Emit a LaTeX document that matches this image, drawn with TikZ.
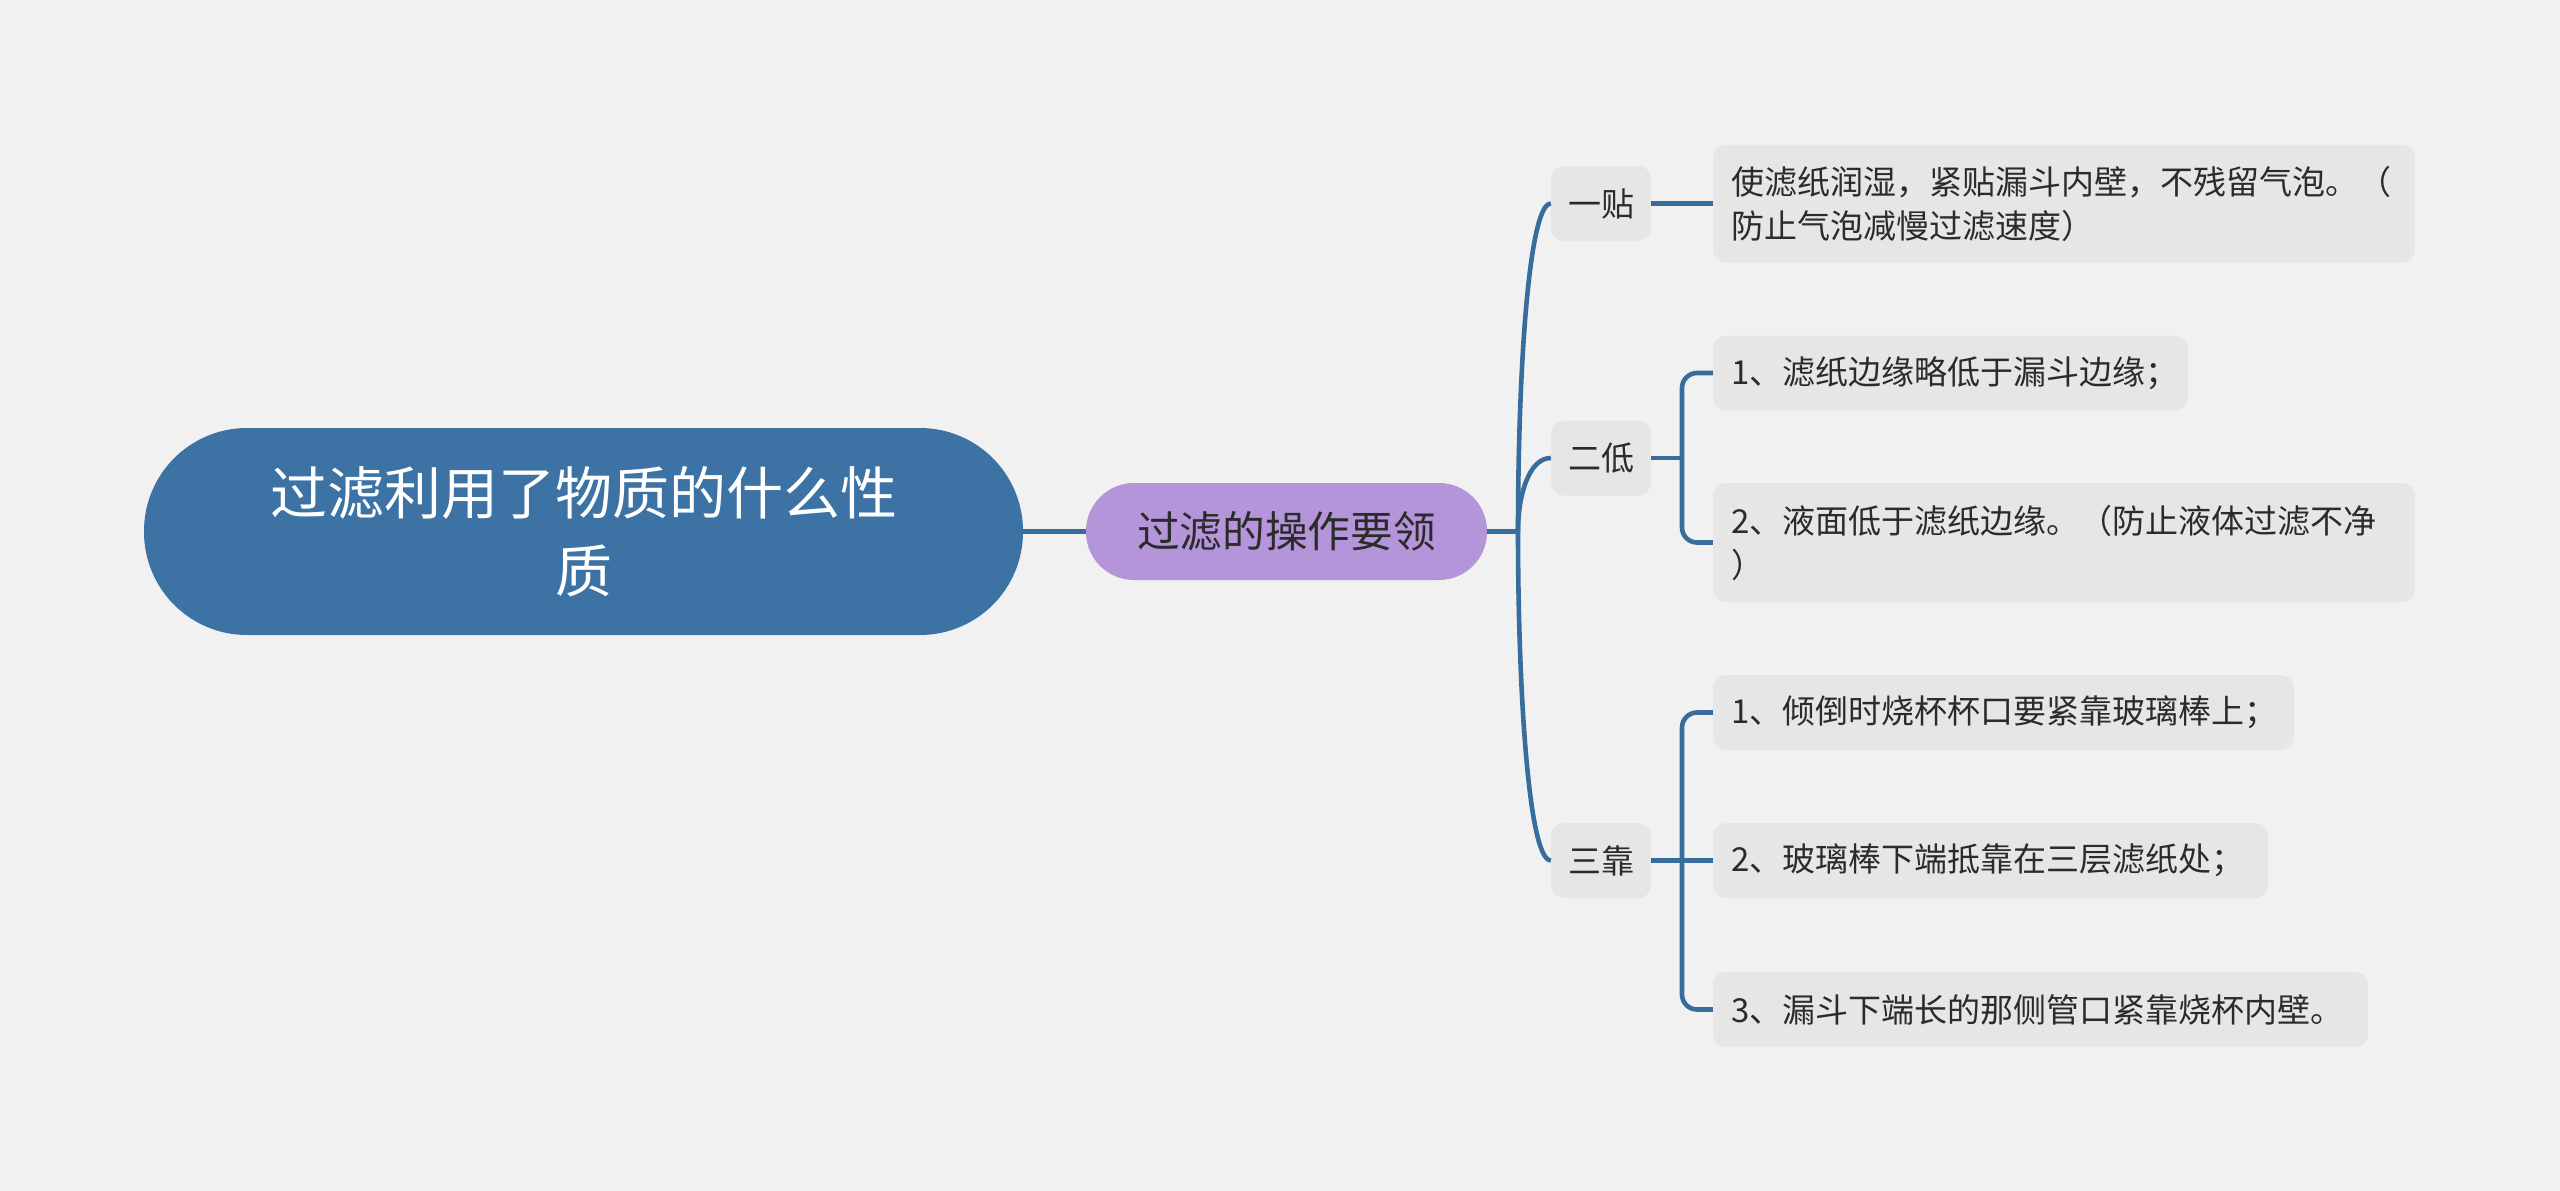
\documentclass[tikz,border=0pt]{standalone}
\usepackage{fontspec}
\setmainfont{Noto Sans CJK SC}
\usetikzlibrary{calc}
\definecolor{bg}{HTML}{F1F1F1}
\definecolor{rootblue}{HTML}{3C72A4}
\definecolor{mainpurple}{HTML}{B595D9}
\definecolor{boxgray}{HTML}{E6E6E6}
\definecolor{linkblue}{HTML}{386C9D}
\definecolor{txt}{HTML}{2B2B2B}
\tikzset{
  rootnode/.style={fill=rootblue, text=white, rounded corners=103pt, minimum width=879pt, minimum height=207pt, inner sep=0pt, align=center, font=\fontsize{57}{78}\selectfont},
  mainnode/.style={fill=mainpurple, text=txt, rounded corners=48pt, minimum width=401pt, minimum height=97pt, inner sep=0pt, font=\fontsize{42.7}{50}\selectfont},
  catnode/.style={fill=boxgray, text=txt, rounded corners=13pt, minimum width=100pt, minimum height=75pt, inner sep=0pt, font=\fontsize{33}{44}\selectfont},
  leafnode/.style={fill=boxgray, text=txt, rounded corners=13pt, minimum height=75pt, inner xsep=18pt, inner ysep=0pt, align=left, text width=#1, font=\fontsize{33}{44}\selectfont},
  link/.style={draw=linkblue, line width=4.6pt},
}
\begin{document}
\begin{tikzpicture}[x=1pt,y=-1pt]
\useasboundingbox (0,0) rectangle (2560,1191);
\fill[bg] (0,0) rectangle (2560,1191);

\node[rootnode] (root) at (583.5,531.5) {过滤利用了物质的什么性\\质};
\node[mainnode] (main) at (1286.5,531.5) {过滤的操作要领};

\node[catnode] (yitie) at (1601,203.5) {一贴};
\node[catnode] (erdi) at (1601,458) {二低};
\node[catnode] (sankao) at (1601,860.5) {三靠};

\node[leafnode=666pt, minimum height=118pt] (la) at (2064,203.5) {使滤纸润湿，紧贴漏斗内壁，不残留气泡。（\\防止气泡减慢过滤速度）};
\node[leafnode=439pt] (lb) at (1950.5,373) {1、滤纸边缘略低于漏斗边缘；};
\node[leafnode=666pt, minimum height=119pt] (lc) at (2064,542.5) {2、液面低于滤纸边缘。（防止液体过滤不净\\）};
\node[leafnode=545pt] (ld) at (2003.5,712.5) {1、倾倒时烧杯杯口要紧靠玻璃棒上；};
\node[leafnode=519pt] (le) at (1990.5,860.5) {2、玻璃棒下端抵靠在三层滤纸处；};
\node[leafnode=619pt] (lf) at (2040.5,1009.5) {3、漏斗下端长的那侧管口紧靠烧杯内壁。};

\coordinate (j) at (1518,531.5);
\coordinate (b1) at (1682,458);
\coordinate (b2) at (1682,860.5);

\draw[link] (root.east) -- (main.west);
\draw[link] (main.east) -- (j);
\draw[link] (j) .. controls +(0,-161) and +(-22,0) .. (yitie.west);
\draw[link] (j) .. controls +(0,-36) and +(-22,0) .. (erdi.west);
\draw[link] (j) .. controls +(0,161) and +(-22,0) .. (sankao.west);

\draw[link] (yitie.east) -- (yitie.east -| la.west);
\draw[link] (erdi.east) -- (b1);
\draw[link, rounded corners=15pt] (lb.west) -- (lb.west -| b1) -- (lc.west -| b1) -- (lc.west);
\draw[link] (sankao.east) -- (le.west);
\draw[link, rounded corners=15pt] (ld.west) -- (ld.west -| b2) -- (lf.west -| b2) -- (lf.west);
\end{tikzpicture}
\end{document}
